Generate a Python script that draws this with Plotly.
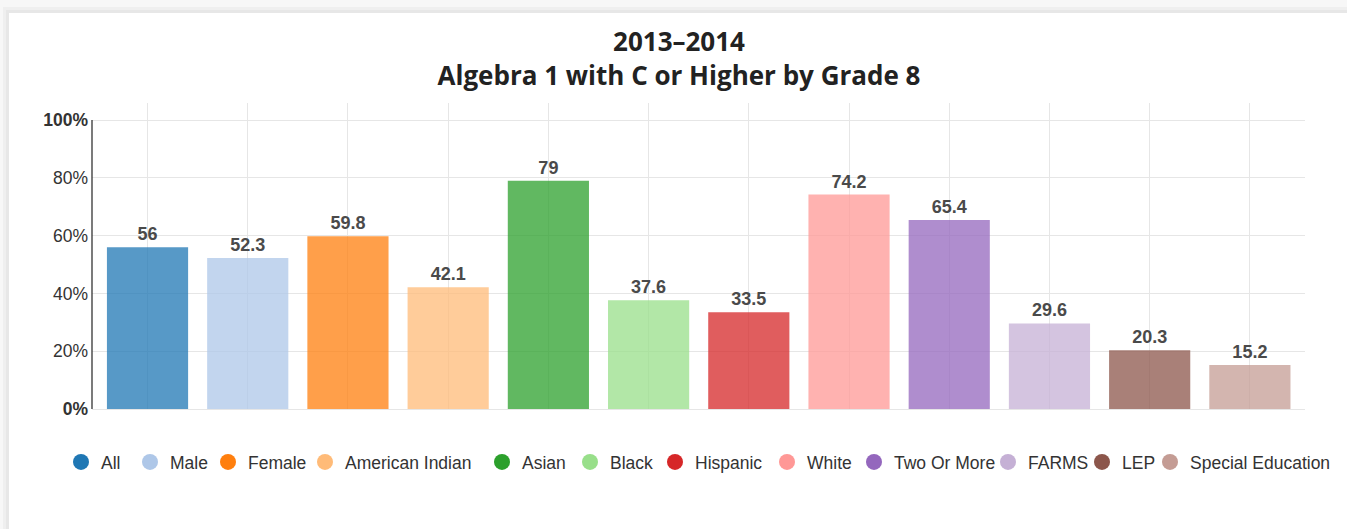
import plotly.graph_objects as go

# ---------------- data ----------------
categories = ["All", "Male", "Female", "American Indian", "Asian", "Black",
              "Hispanic", "White", "Two Or More", "FARMS", "LEP", "Special Education"]
values = [56, 52.3, 59.8, 42.1, 79, 37.6, 33.5, 74.2, 65.4, 29.6, 20.3, 15.2]
colors = ["#1f77b4", "#aec7e8", "#ff7f0e", "#ffbb78", "#2ca02c", "#98df8a",
          "#d62728", "#ff9896", "#9467bd", "#c5b0d5", "#8c564b", "#c49c94"]
y_tick_vals = [0, 20, 40, 60, 80, 100]
y_tick_text = ["<b>0%</b>", "20%", "40%", "60%", "80%", "<b>100%</b>"]
title_lines = ["2013–2014", "Algebra 1 with C or Higher by Grade 8"]

# ---------------- layout geometry ----------------
W, H = 1347, 529
L, R, T, B = 92, 42, 103, 120
PW, PH = W - L - R, H - T - B
legend_centers_px = [81, 150, 228, 325, 502, 590, 675, 787, 874, 1008, 1102, 1170]
legend_y_px = 462
LEG_OFF = 20  # px from legend box left edge to symbol centre
TITLE_X, TITLE_Y = 679, 51

FONT = "Arial, 'Liberation Sans', sans-serif"
TFONT = dict(family="'Open Sans', sans-serif", size=26, color="#222222", weight="bold")


def px_x(px):
    return (px - L) / PW


def px_y(py):
    return (H - B - py) / PH


fig = go.Figure()

fig.add_trace(go.Bar(
    x=categories, y=values,
    marker=dict(color=colors, opacity=0.75, line=dict(width=0)),
    text=values, texttemplate="%{y}", textposition="outside",
    textfont=dict(family=FONT, size=18, color="#4a4a4a", weight="bold"),
    cliponaxis=False, showlegend=False, hoverinfo="x+y",
))

legend_layouts = {}
for i, (cat, col) in enumerate(zip(categories, colors)):
    key = "legend" if i == 0 else f"legend{i + 1}"
    fig.add_trace(go.Scatter(
        x=[None], y=[None], mode="markers", name=cat,
        marker=dict(color=col, size=16, symbol="circle"),
        legend=key, showlegend=True,
    ))
    legend_layouts[key] = dict(
        x=(legend_centers_px[i] - LEG_OFF) / W, xref="container", xanchor="left",
        y=(H - legend_y_px) / H, yref="container", yanchor="middle",
        orientation="h", bgcolor="rgba(0,0,0,0)", itemsizing="trace",
        font=dict(family=FONT, size=17.5, color="#333333"),
    )

shapes = [
    # card shadow bands + white card
    dict(type="rect", xref="paper", yref="paper", layer="below",
         x0=px_x(3), x1=px_x(1400), y0=px_y(600), y1=px_y(7),
         fillcolor="#efefef", line=dict(width=0)),
    dict(type="rect", xref="paper", yref="paper", layer="below",
         x0=px_x(6), x1=px_x(1400), y0=px_y(600), y1=px_y(10),
         fillcolor="#e7e7e7", line=dict(width=0)),
    dict(type="rect", xref="paper", yref="paper", layer="below",
         x0=px_x(9), x1=px_x(1400), y0=px_y(600), y1=px_y(13),
         fillcolor="#ffffff", line=dict(width=0)),
    # y axis line (0% .. 100%)
    dict(type="line", xref="paper", yref="y", layer="above",
         x0=0, x1=0, y0=0, y1=100, line=dict(color="#222222", width=1.2)),
]

fig.update_layout(
    width=W, height=H,
    margin=dict(l=L, r=R, t=T, b=B, pad=0),
    paper_bgcolor="#f7f7f7", plot_bgcolor="rgba(0,0,0,0)",
    bargap=0.19,
    title=dict(
        text="<br>".join(title_lines), font=TFONT,
        x=TITLE_X / W, xref="container", xanchor="center",
        y=(H - TITLE_Y) / H, yref="container", yanchor="middle",
    ),
    xaxis=dict(
        type="category", range=[-0.554, 11.55],
        showgrid=True, gridcolor="#e6e6e6", gridwidth=1,
        showticklabels=False, ticks="", showline=False, zeroline=False,
        fixedrange=True,
    ),
    yaxis=dict(
        range=[0, 105.9], tickvals=y_tick_vals, ticktext=y_tick_text,
        showgrid=True, gridcolor="#e6e6e6", gridwidth=1,
        zeroline=True, zerolinecolor="#e6e6e6", zerolinewidth=1,
        showline=False, ticks="", ticklabelstandoff=3,
        tickfont=dict(family=FONT, size=17.5, color="#333333"),
        fixedrange=True,
    ),
    shapes=shapes,
    **legend_layouts,
)

fig.write_html("out.html", config={"displayModeBar": False},
               post_script="document.body.style.margin='0';")
